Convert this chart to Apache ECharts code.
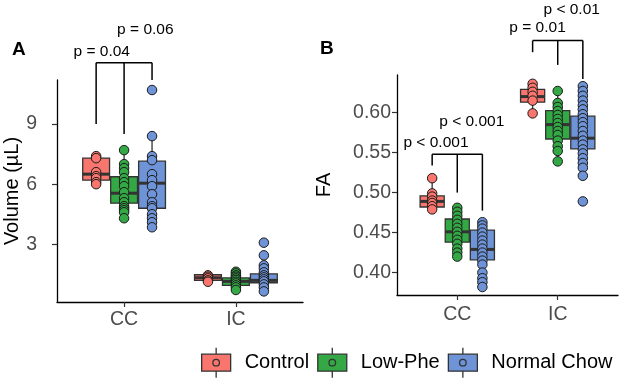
<!DOCTYPE html>
<html>
<head>
<meta charset="utf-8">
<title>Volume and FA by region</title>
<script src="https://cdn.jsdelivr.net/npm/echarts@6/dist/echarts.min.js"></script>
<style>
  html, body { margin: 0; padding: 0; background: #fff; }
  #chart { width: 626px; height: 385px; }
</style>
</head>
<body>
<div id="chart"></div>
<script>
// groups / categories
var groups = ['Control', 'Low-Phe', 'Normal Chow'];
var groupColors = ['#F8766D', '#33A845', '#6E93D6'];
var regions = ['CC', 'IC'];

// Panel A - volume (µL), points per group
var volCC = [
	[7.4, 7.3, 6.6, 6.4, 6.3, 6.1, 6.0],
	[7.7, 7.0, 6.8, 6.6, 6.3, 6.1, 5.9, 5.6, 5.3, 5.1, 4.9, 4.8, 4.7, 4.6, 4.3],
	[10.7, 8.4, 7.4, 7.2, 6.5, 6.2, 5.9, 5.5, 5.1, 4.9, 4.8, 4.5, 4.3, 4.1, 3.85]
];
var volIC = [
	[1.45, 1.38, 1.3, 1.2, 1.13],
	[1.63, 1.55, 1.45, 1.38, 1.3, 1.22, 1.13, 1.05, 0.95, 0.85, 0.72],
	[3.08, 2.45, 1.95, 1.8, 1.6, 1.45, 1.35, 1.25, 1.15, 1.0, 0.85, 0.65]
];
// box stats: min, q1, median, q3, max
var volBoxCC = [
	[6.0, 6.2, 6.5, 7.3, 7.4],
	[4.3, 5.05, 5.55, 6.37, 7.7],
	[3.85, 4.8, 6.05, 7.15, 8.4]
];
var volBoxIC = [
	[1.1, 1.2, 1.33, 1.48, 1.55],
	[0.7, 0.95, 1.15, 1.32, 1.65],
	[0.65, 1.08, 1.2, 1.52, 1.9]
];
var volTicks = [3, 6, 9];

// Panel B - FA
var faCC = [
	[0.518, 0.499, 0.495, 0.490, 0.487, 0.483, 0.479],
	[0.481, 0.476, 0.471, 0.466, 0.461, 0.456, 0.451, 0.446, 0.441, 0.436, 0.430, 0.425, 0.420],
	[0.463, 0.459, 0.455, 0.450, 0.445, 0.440, 0.435, 0.430, 0.425, 0.420, 0.415, 0.410, 0.400, 0.393, 0.388, 0.382]
];
var faIC = [
	[0.636, 0.631, 0.626, 0.621, 0.615, 0.599],
	[0.627, 0.612, 0.607, 0.602, 0.597, 0.592, 0.587, 0.582, 0.577, 0.572, 0.565, 0.558, 0.552, 0.539],
	[0.633, 0.627, 0.621, 0.615, 0.609, 0.604, 0.598, 0.593, 0.588, 0.583, 0.577, 0.571, 0.565, 0.560, 0.554, 0.549, 0.543, 0.537, 0.531, 0.521, 0.489]
];
var faBoxCC = [
	[0.477, 0.482, 0.489, 0.496, 0.518],
	[0.420, 0.438, 0.451, 0.467, 0.481],
	[0.382, 0.416, 0.429, 0.453, 0.463]
];
var faBoxIC = [
	[0.599, 0.613, 0.620, 0.629, 0.637],
	[0.539, 0.567, 0.585, 0.6025, 0.627],
	[0.521, 0.5546, 0.568, 0.5955, 0.633]
];
var faTicks = [0.40, 0.45, 0.50, 0.55, 0.60];

// significance brackets: region index, top, end of each drop (Control, Low-Phe, Normal Chow)
var bracketsA = [[0, 12.06, 9.0, 8.5, 11.2]];
var bracketsB = [[0, 0.548, 0.534, 0.500, 0.4775], [1, 0.690, 0.6755, 0.6596, 0.642]];
var pLabelsA = ['p = 0.04', 'p = 0.06'];
var pLabelXA = [0.80, 1.19];
var pLabelYA = [12.6, 13.72];
var pLabelsB = ['p < 0.001', 'p < 0.001', 'p = 0.01', 'p < 0.01'];
var pLabelXB = [0.788, 1.144, 1.799, 2.139];
var pLabelYB = [0.562, 0.589, 0.7065, 0.729];

var FONT = "'Liberation Sans', Arial, Helvetica, sans-serif";
var dodge = [-0.25, 0, 0.25];
var boxWidth = 0.24;

/**
 * box + whiskers
 */
function renderBox(params, api) {
	var x = api.value(0);
	var lo = api.coord([x, api.value(1)]);
	var q1 = api.coord([x, api.value(2)]);
	var md = api.coord([x, api.value(3)]);
	var q3 = api.coord([x, api.value(4)]);
	var hi = api.coord([x, api.value(5)]);
	var left = api.coord([x - boxWidth / 2, api.value(3)])[0];
	var right = api.coord([x + boxWidth / 2, api.value(3)])[0];
	var color = api.visual('color');
	var line = { stroke: '#333', lineWidth: 1.3 };
	return {
		type: 'group',
		children: [
			{ type: 'line', shape: { x1: lo[0], y1: lo[1], x2: q1[0], y2: q1[1] }, style: line },
			{ type: 'line', shape: { x1: q3[0], y1: q3[1], x2: hi[0], y2: hi[1] }, style: line },
			{ type: 'rect', shape: { x: left, y: q3[1], width: right - left, height: q1[1] - q3[1] },
				style: { fill: color, stroke: '#333', lineWidth: 1.3 } },
			{ type: 'line', shape: { x1: left, y1: md[1], x2: right, y2: md[1] }, style: { stroke: '#333', lineWidth: 3 } }
		]
	};
}

/**
 * bracket with three drops
 */
function renderBracket(params, api) {
	var cat = api.value(0) + 1;
	var top = api.value(1);
	var children = [];
	var pL = api.coord([cat + dodge[0], top]);
	var pR = api.coord([cat + dodge[2], top]);
	children.push({ type: 'line', shape: { x1: pL[0], y1: pL[1], x2: pR[0], y2: pR[1] }, style: { stroke: '#000', lineWidth: 1.5 } });
	for (var k = 0; k < 3; k++) {
		var a = api.coord([cat + dodge[k], top]);
		var b = api.coord([cat + dodge[k], api.value(2 + k)]);
		children.push({ type: 'line', shape: { x1: a[0], y1: a[1], x2: b[0], y2: b[1] }, style: { stroke: '#000', lineWidth: 1.5 } });
	}
	return { type: 'group', children: children };
}

function makeLabelRenderer(texts) {
	return function (params, api) {
		var p = api.coord([api.value(0), api.value(1)]);
		return {
			type: 'text', x: p[0], y: p[1],
			style: { text: texts[params.dataIndex], fill: '#000', fontSize: 15.5, fontFamily: FONT,
				align: 'center', verticalAlign: 'middle' }
		};
	};
}

function buildPanel(idx, boxCC, boxIC, ptsCC, ptsIC, brackets, labels, labelX, labelY) {
	var list = [];
	for (var g = 0; g < 3; g++) {
		list.push({
			type: 'custom', xAxisIndex: idx, yAxisIndex: idx, z: 2,
			itemStyle: { color: groupColors[g] },
			renderItem: renderBox,
			data: [[1 + dodge[g]].concat(boxCC[g]), [2 + dodge[g]].concat(boxIC[g])]
		});
	}
	for (var g2 = 0; g2 < 3; g2++) {
		var off = dodge[g2];
		var data = ptsCC[g2].map(function (v) { return [1 + off, v]; })
			.concat(ptsIC[g2].map(function (v) { return [2 + off, v]; }));
		list.push({
			type: 'scatter', name: groups[g2], xAxisIndex: idx, yAxisIndex: idx, z: 3,
			symbolSize: 9.5,
			itemStyle: { color: groupColors[g2], borderColor: '#1a1a1a', borderWidth: 1, opacity: 1 },
			data: data
		});
	}
	list.push({
		type: 'custom', xAxisIndex: idx, yAxisIndex: idx, z: 4, clip: false, silent: true,
		renderItem: renderBracket, data: brackets
	});
	list.push({
		type: 'custom', xAxisIndex: idx, yAxisIndex: idx, z: 4, clip: false, silent: true,
		renderItem: makeLabelRenderer(labels),
		data: labelX.map(function (x, i) { return [x, labelY[i]]; })
	});
	return list;
}

function xAxisFor(gridIdx, margin) {
	return {
		type: 'value', gridIndex: gridIdx, min: 0.4, max: 2.6,
		axisLine: { show: true, onZero: false, lineStyle: { color: '#000', width: 1.3 } },
		axisTick: { show: true, customValues: [1, 2], length: 5, lineStyle: { color: '#333', width: 1.2 } },
		axisLabel: { customValues: [1, 2], margin: margin, color: '#4D4D4D', fontSize: 19.5, fontFamily: FONT,
			formatter: function (v) { return regions[Math.round(v) - 1]; } },
		splitLine: { show: false }
	};
}

var keyPath = 'path://M14.5,0 L14.5,6.5 M0,6.5 L29,6.5 L29,23.5 L0,23.5 Z M14.5,23.5 L14.5,30 ' +
	'M17.8,15 A3.3,3.3 0 1 1 11.2,15 A3.3,3.3 0 1 1 17.8,15 Z';

var myChart = echarts.init(document.getElementById('chart'), null, { renderer: 'canvas' });
var option = {
	backgroundColor: '#fff',
	animation: false,
	grid: [
		{ left: 57, top: 80, width: 246, height: 222 },
		{ left: 397, top: 75, width: 221, height: 220 }
	],
	xAxis: [xAxisFor(0, 8), xAxisFor(1, 10)],
	yAxis: [
		{
			type: 'value', gridIndex: 0, min: 0.12, max: 11.2,
			name: 'Volume (µL)', nameLocation: 'middle', nameGap: 32,
			nameTextStyle: { color: '#000', fontSize: 20, fontFamily: FONT },
			axisLine: { show: true, onZero: false, lineStyle: { color: '#000', width: 1.3 } },
			axisTick: { show: true, customValues: volTicks, length: 5, lineStyle: { color: '#333', width: 1.2 } },
			axisLabel: { customValues: volTicks, margin: 20, color: '#4D4D4D', fontSize: 19.5, fontFamily: FONT },
			splitLine: { show: false }
		},
		{
			type: 'value', gridIndex: 1, min: 0.372, max: 0.647,
			name: 'FA', nameLocation: 'middle', nameGap: 63,
			nameTextStyle: { color: '#000', fontSize: 20, fontFamily: FONT },
			axisLine: { show: true, onZero: false, lineStyle: { color: '#000', width: 1.3 } },
			axisTick: { show: true, customValues: faTicks, length: 5, lineStyle: { color: '#333', width: 1.2 } },
			axisLabel: { customValues: faTicks, margin: 6, color: '#4D4D4D', fontSize: 19.5, fontFamily: FONT,
				formatter: function (v) { return v.toFixed(2); } },
			splitLine: { show: false }
		}
	],
	legend: {
		left: 196, top: 342, itemWidth: 29, itemHeight: 30, itemGap: 8,
		selectedMode: false,
		textStyle: { color: '#000', fontSize: 20, fontFamily: FONT, padding: [0, 0, 0, 9] },
		itemStyle: { borderColor: '#333', borderWidth: 1.3 },
		data: groups.map(function (name, i) {
			return { name: name, icon: keyPath, itemStyle: { color: groupColors[i], borderColor: '#333', borderWidth: 1.3 } };
		})
	},
	graphic: [
		{ type: 'text', left: 12, top: 40, style: { text: 'A', fill: '#000', font: 'bold 19px ' + FONT } },
		{ type: 'text', left: 320, top: 39, style: { text: 'B', fill: '#000', font: 'bold 19px ' + FONT } }
	],
	series: buildPanel(0, volBoxCC, volBoxIC, volCC, volIC, bracketsA, pLabelsA, pLabelXA, pLabelYA)
		.concat(buildPanel(1, faBoxCC, faBoxIC, faCC, faIC, bracketsB, pLabelsB, pLabelXB, pLabelYB))
};
myChart.setOption(option);
</script>
</body>
</html>
